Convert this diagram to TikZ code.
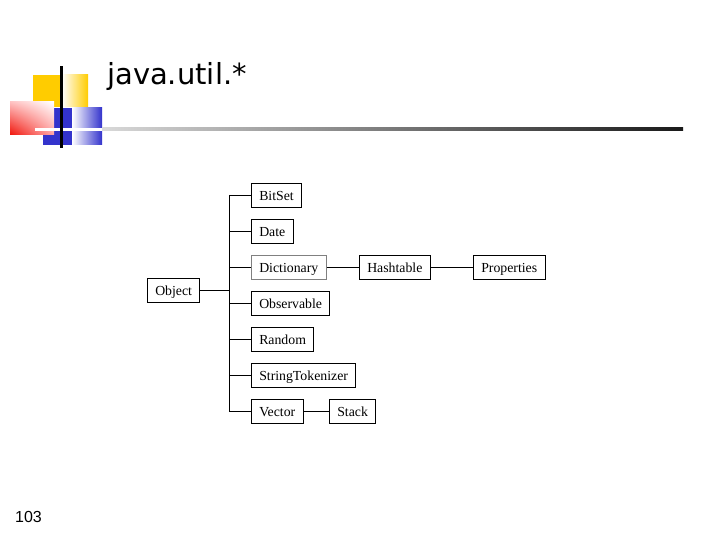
\documentclass[tikz,border=0pt]{standalone}
\usepackage{fontspec}
\usetikzlibrary{shadings}
\setmainfont{Liberation Serif}
\newfontfamily\titlefont{DejaVu Sans}
\newfontfamily\numfont{Liberation Sans}
\definecolor{logoyellow}{RGB}{255,204,0}
\definecolor{logoblue}{RGB}{51,51,204}
\definecolor{logored}{RGB}{240,20,10}
\definecolor{dictgray}{RGB}{128,128,128}
\begin{document}
\begin{tikzpicture}[x=1pt,y=-1pt,
  cls/.style={draw=black, line width=0.9pt, fill=white, anchor=west,
    font=\fontsize{13.8}{15}\selectfont, inner xsep=7.8pt, inner ysep=0pt,
    minimum height=24pt, text height=12.4pt, text depth=1pt},
  graycls/.style={cls, draw=dictgray},
  link/.style={line width=0.9pt, black}]
\useasboundingbox (0,0) rectangle (720,540);
% logo
\fill[logoyellow] (33,75) rectangle (62,107);
\shade[left color=white, right color=logoyellow] (62,75) rectangle (88,107);
\fill[logoblue] (43,108) rectangle (72,145);
\shade[left color=white, right color=logoblue] (72,108) rectangle (102,145);
\shade[lower left=logored, upper right=white, upper left=red!25!white, lower right=red!35!white] (10,102) rectangle (54,135);
\fill[white] (35,128) rectangle (102,131);
\shade[left color=black!15, right color=black!90] (102,128) rectangle (683,131);
\fill[black] (59.8,66) rectangle (62.5,148);
% title
\node[anchor=base west, inner sep=0pt, font=\titlefont\fontsize{29}{32}\selectfont] (title) at (107,85) {java.util.*};
% page number
\node[anchor=base west, inner sep=0pt, font=\numfont\fontsize{16}{18}\selectfont] (pnum) at (15,522) {103};
% diagram
\node[cls] (obj) at (147,290) {Object};
\node[cls] (bitset) at (251,195) {BitSet};
\node[cls] (date) at (251,231) {Date};
\node[graycls] (dict) at (251,267) {Dictionary};
\node[cls] (obs) at (251,303) {Observable};
\node[cls] (rand) at (251,339) {Random};
\node[cls] (strtok) at (251,375) {StringTokenizer};
\node[cls] (vec) at (251,411) {Vector};
\node[cls] (hash) at (359,267) {Hashtable};
\node[cls] (prop) at (473,267) {Properties};
\node[cls] (stack) at (329,411) {Stack};
\coordinate (j) at (229,290);
\draw[link] (obj.east) -- (j);
\draw[link] (j |- bitset.west) -- (j |- vec.west);
\foreach \n in {bitset,date,dict,obs,rand,strtok,vec}
  \draw[link] (j |- \n.west) -- (\n.west);
\draw[link] (dict.east) -- (hash.west);
\draw[link] (hash.east) -- (prop.west);
\draw[link] (vec.east) -- (stack.west);
\end{tikzpicture}
\end{document}
